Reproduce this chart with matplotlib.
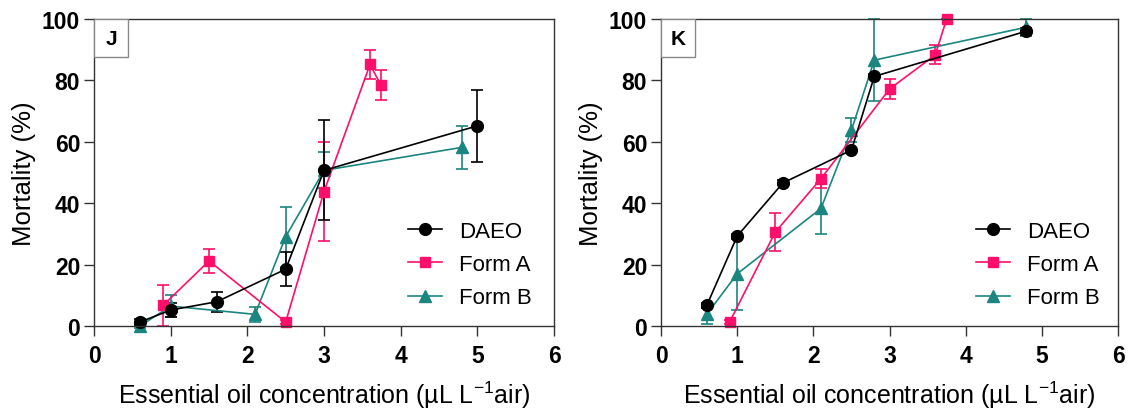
import matplotlib
matplotlib.use("Agg")
import matplotlib.pyplot as plt
from matplotlib.patches import Rectangle
from matplotlib.lines import Line2D

plt.rcParams['font.family'] = ['Liberation Sans', 'DejaVu Sans']
plt.rcParams['mathtext.fontset'] = 'custom'
plt.rcParams['mathtext.rm'] = 'Liberation Sans'
plt.rcParams['mathtext.it'] = 'Liberation Sans'

# panel J
j_daeo_x = [0.6, 1.0, 1.6, 2.5, 3.0, 5.0]
j_daeo_y = [1.3, 5.2, 7.9, 18.5, 50.7, 65.2]
j_daeo_err = [1.0, 2.4, 3.3, 5.6, 16.3, 11.8]

j_forma_x = [0.9, 1.5, 2.5, 3.0, 3.6, 3.74]
j_forma_y = [6.7, 21.2, 1.3, 43.8, 85.2, 78.5]
j_forma_err = [6.6, 3.9, 0.5, 16.0, 4.8, 4.8]

j_formb_x = [0.6, 1.0, 2.1, 2.5, 3.0, 4.8]
j_formb_y = [0.0, 6.5, 3.8, 29.1, 50.7, 58.2]
j_formb_err = [0.5, 3.5, 2.5, 9.8, 5.9, 7.1]

# panel K
k_daeo_x = [0.6, 1.0, 1.6, 2.5, 2.8, 4.79]
k_daeo_y = [6.7, 29.3, 46.6, 57.3, 81.3, 96.0]
k_daeo_err = [0.8, 0.8, 0.8, 0.8, 0.8, 1.1]

k_forma_x = [0.9, 1.5, 2.1, 3.0, 3.6, 3.75]
k_forma_y = [1.3, 30.6, 48.0, 77.2, 88.3, 100.0]
k_forma_err = [0.5, 6.1, 3.2, 3.3, 3.1, 0.0]

k_formb_x = [0.6, 1.0, 2.1, 2.5, 2.8, 4.79]
k_formb_y = [3.8, 17.0, 38.3, 63.8, 86.6, 97.3]
k_formb_err = [3.0, 11.8, 8.3, 3.8, 13.4, 2.7]

xticks = [0, 1, 2, 3, 4, 5, 6]
yticks = [0, 20, 40, 60, 80, 100]

BLACK = '#000000'
PINK = '#ff0f6b'
TEAL = '#1b8580'


def draw_series(ax, x, y, err, color, marker, ms):
    h = ax.errorbar(x, y, yerr=err, color=color, marker=marker, markersize=ms,
                    linewidth=1.2, elinewidth=1.2, capsize=4.5, capthick=1.2)
    for child in h.get_children():
        child.set_clip_on(False)
    return Line2D([], [], color=color, marker=marker, markersize=ms, linewidth=1.2)


def panel(ax, tag, data, legend_x):
    hb = draw_series(ax, *data[2], TEAL, '^', 8)
    ha = draw_series(ax, *data[1], PINK, 's', 7.5)
    hd = draw_series(ax, *data[0], BLACK, 'o', 8.5)

    ax.set_xlim(0, 6)
    ax.set_ylim(0, 100)
    ax.set_xticks(xticks)
    ax.set_yticks(yticks)
    ax.tick_params(axis='both', labelsize=16.5, length=7, width=1, color='#333333', pad=3)
    ax.tick_params(axis='x', pad=6)
    for lab in ax.get_xticklabels() + ax.get_yticklabels():
        lab.set_fontweight('bold')
    for sp in ax.spines.values():
        sp.set_color('#333333')
        sp.set_linewidth(1)
    ax.set_xlabel(r'Essential oil concentration (µL L$^{-1}$air)', fontsize=18, labelpad=8)
    ax.set_ylabel('Mortality (%)', fontsize=18.5, labelpad=4)

    ax.add_patch(Rectangle((0, 0.876), 0.074, 0.124, transform=ax.transAxes,
                           facecolor='white', edgecolor='#888888', linewidth=1, zorder=5))
    ax.text(0.037, 0.938, tag, transform=ax.transAxes, ha='center', va='center',
            fontsize=15, fontweight='bold', zorder=6)

    ax.legend([hd, ha, hb], ['DAEO', 'Form A', 'Form B'], loc='center left',
              bbox_to_anchor=(legend_x, 0.2), frameon=False, fontsize=16,
              handlelength=1.5, handletextpad=0.8, labelspacing=0.55,
              borderaxespad=0, borderpad=0)


fig = plt.figure(figsize=(11.3, 4.1), dpi=100)
ax1 = fig.add_axes([0.0832, 0.2024, 0.4071, 0.7488])
ax2 = fig.add_axes([0.585, 0.2024, 0.4044, 0.7488])

panel(ax1, 'J', [(j_daeo_x, j_daeo_y, j_daeo_err),
                 (j_forma_x, j_forma_y, j_forma_err),
                 (j_formb_x, j_formb_y, j_formb_err)], 0.683)
panel(ax2, 'K', [(k_daeo_x, k_daeo_y, k_daeo_err),
                 (k_forma_x, k_forma_y, k_forma_err),
                 (k_formb_x, k_formb_y, k_formb_err)], 0.69)

fig.savefig('out.png', dpi=100)
